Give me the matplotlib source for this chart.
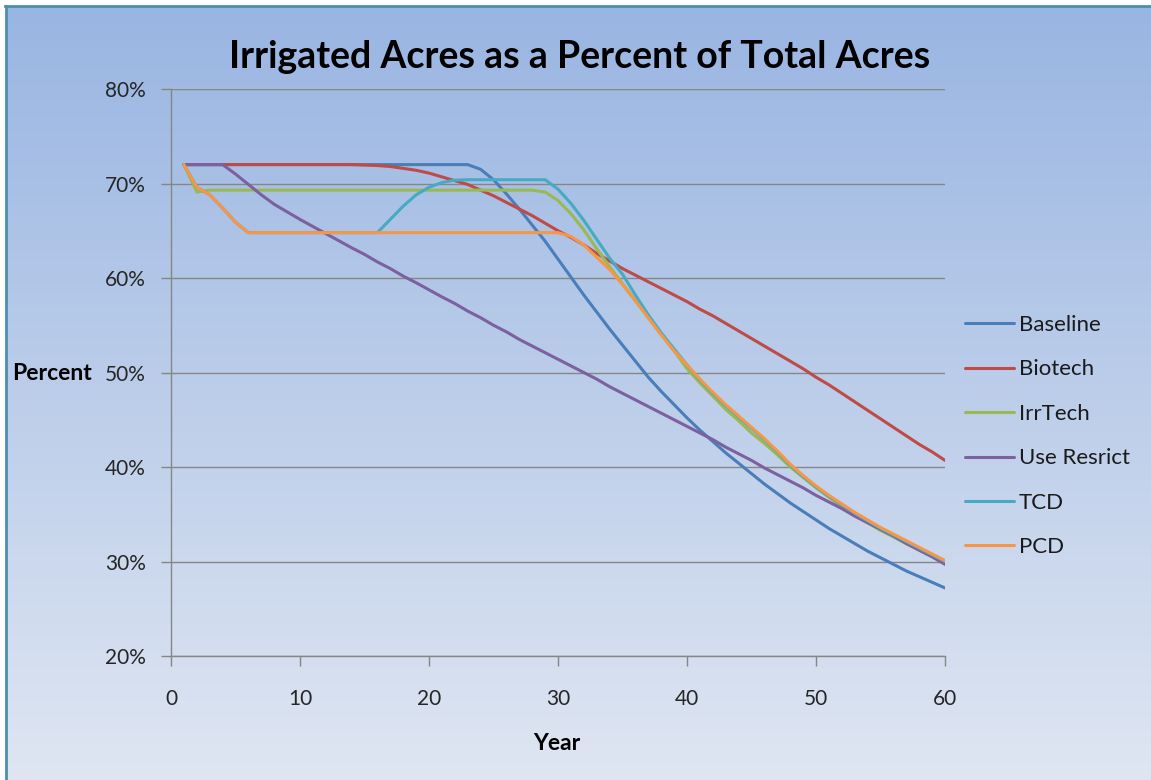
import numpy as np
import matplotlib
matplotlib.use("Agg")
import matplotlib.pyplot as plt
from matplotlib.ticker import PercentFormatter, MultipleLocator

plt.rcParams['font.family'] = ['Lato', 'DejaVu Sans']

years = list(range(1, 61))

baseline = [72.0]*23 + [71.5, 70.4, 68.9, 67.3, 65.6, 63.9, 62.0, 60.1, 58.2, 56.4, 54.6, 52.9,
                       51.2, 49.5, 48.0, 46.6, 45.2, 43.9, 42.7, 41.5, 40.4, 39.3, 38.2, 37.2, 36.2,
                       35.3, 34.4, 33.5, 32.7, 31.9, 31.1, 30.4, 29.7, 29.0, 28.4, 27.8, 27.2]

biotech = [72.0]*14 + [71.95, 71.9, 71.8, 71.6, 71.4, 71.1, 70.7, 70.3, 69.9, 69.3, 68.7, 68.0,
                      67.3, 66.6, 65.8, 65.0, 64.3, 63.5, 62.6, 61.8, 61.0, 60.3, 59.6, 58.9, 58.2,
                      57.5, 56.7, 56.0, 55.2, 54.4, 53.6, 52.8, 52.0, 51.2, 50.4, 49.5, 48.7, 47.8,
                      46.9, 46.0, 45.1, 44.2, 43.3, 42.4, 41.6, 40.7]

irrtech = [72.0, 69.1] + [69.3]*26 + [69.1, 68.2, 66.8, 65.1, 63.1, 61.2, 59.4, 57.6, 55.8, 54.0,
                                     52.3, 50.4, 48.9, 47.5, 46.1, 44.9, 43.6, 42.5, 41.3, 40.0,
                                     38.9, 37.8, 36.8, 35.8, 35.0, 34.1, 33.3, 32.6, 31.9, 31.2,
                                     30.5, 29.8]

use_restrict = [72.0, 72.0, 72.0, 72.0, 71.0, 69.9, 68.8, 67.8, 67.0, 66.2, 65.45, 64.7, 63.95,
                63.2, 62.5, 61.7, 61.0, 60.2, 59.5, 58.75, 58.0, 57.3, 56.5, 55.8, 55.0, 54.3,
                53.5, 52.8, 52.1, 51.4, 50.7, 50.0, 49.3, 48.5, 47.8, 47.1, 46.4, 45.7, 45.0,
                44.3, 43.6, 42.9, 42.1, 41.4, 40.7, 39.9, 39.2, 38.5, 37.8, 37.0, 36.3, 35.6,
                34.8, 34.1, 33.4, 32.7, 31.9, 31.2, 30.5, 29.7]

tcd = [72.0, 69.6, 68.8, 67.4, 65.9] + [64.8]*11 + [66.2, 67.6, 68.8, 69.6, 70.1, 70.35] + \
      [70.4]*7 + [69.4, 67.9, 66.1, 64.1, 62.1, 60.4, 58.2, 56.1, 54.2, 52.5, 50.8, 49.2, 47.8,
                  46.5, 45.3, 44.1, 42.9, 41.6, 40.2, 39.0, 37.9, 36.9, 36.0, 35.1, 34.3, 33.5,
                  32.8, 32.1, 31.4, 30.7, 30.0]

pcd = [72.0, 69.6, 68.8, 67.4, 65.9] + [64.8]*25 + [64.4, 63.5, 62.2, 60.9, 59.3, 57.6, 55.8,
                                                   54.0, 52.3, 50.8, 49.3, 47.9, 46.6, 45.4,
                                                   44.2, 43.0, 41.7, 40.3, 39.1, 38.0, 37.0,
                                                   36.1, 35.2, 34.4, 33.6, 32.9, 32.2, 31.5,
                                                   30.8, 30.1]

series_names = ["Baseline", "Biotech", "IrrTech", "Use Resrict", "TCD", "PCD"]
series_values = [baseline, biotech, irrtech, use_restrict, tcd, pcd]
series_colors = ["#4a7ebb", "#be4b48", "#98b954", "#7d60a0", "#46aac5", "#f79646"]

W, H = 1151, 780
fig = plt.figure(figsize=(W/100, H/100), dpi=100)

# background gradient panel
bg = fig.add_axes([0, 0, 1, 1], zorder=0)
bg.set_xlim(0, W)
bg.set_ylim(H, 0)
bg.axis('off')
top_c = np.array([0x99, 0xb5, 0xe2]) / 255
bot_c = np.array([0xdf, 0xe6, 0xf2]) / 255
t = np.linspace(0, 1, 256)[:, None]
grad = (top_c[None, :] * (1 - t) + bot_c[None, :] * t)[:, None, :]
bg.imshow(grad, extent=[5, W, H, 6], aspect='auto', interpolation='bilinear')
bg.fill_between([0, W], 0, 5, color='white')
bg.fill_between([0, 5], 0, H, color='white')
bg.plot([5, W], [6, 6], color='#4a8fb2', lw=2)
bg.plot([6, 6], [6, H], color='#4a8fb2', lw=2)

# main plot area
x0, x1, y0, y1 = 171, 945, 89, 656
ax = fig.add_axes([x0/W, 1 - y1/H, (x1 - x0)/W, (y1 - y0)/H], zorder=1)
ax.patch.set_alpha(0)

for name, vals, col in zip(series_names, series_values, series_colors):
    ax.plot(years, vals, color=col, lw=2.2, label=name, solid_capstyle='round',
            solid_joinstyle='round')

ax.set_xlim(0, 60)
ax.set_ylim(20, 80)
ax.xaxis.set_major_locator(MultipleLocator(10))
ax.yaxis.set_major_locator(MultipleLocator(10))
ax.yaxis.set_major_formatter(PercentFormatter(xmax=100, decimals=0))
ax.grid(axis='y', color='#868686', lw=1.0)
ax.set_axisbelow(True)
for s in ['top', 'right']:
    ax.spines[s].set_visible(False)
for s in ['left', 'bottom']:
    ax.spines[s].set_color('#868686')
    ax.spines[s].set_linewidth(1.0)
ax.tick_params(axis='both', direction='out', length=7, color='#868686', width=1,
               labelsize=15, labelcolor='#262626')
ax.tick_params(axis='y', pad=11)
ax.tick_params(axis='x', pad=17)

fig.text(580/W, 1 - 57/H, "Irrigated Acres as a Percent of Total Acres",
         ha='center', va='center', fontsize=27, fontweight='bold', color='black')
fig.text(12/W, 1 - 373/H, "Percent", ha='left', va='center', fontsize=16.5,
         fontweight='bold', color='black')
fig.text(557/W, 1 - 743/H, "Year", ha='center', va='center', fontsize=16.5,
         fontweight='bold', color='black')

leg = ax.legend(loc='upper left', bbox_to_anchor=(945/W, 1 - 295/H),
                bbox_transform=fig.transFigure, frameon=False, fontsize=16,
                handlelength=2.2, handletextpad=0.22, labelspacing=1.1)
for txt in leg.get_texts():
    txt.set_color('#1a1a1a')

fig.savefig("out.png", dpi=100)
